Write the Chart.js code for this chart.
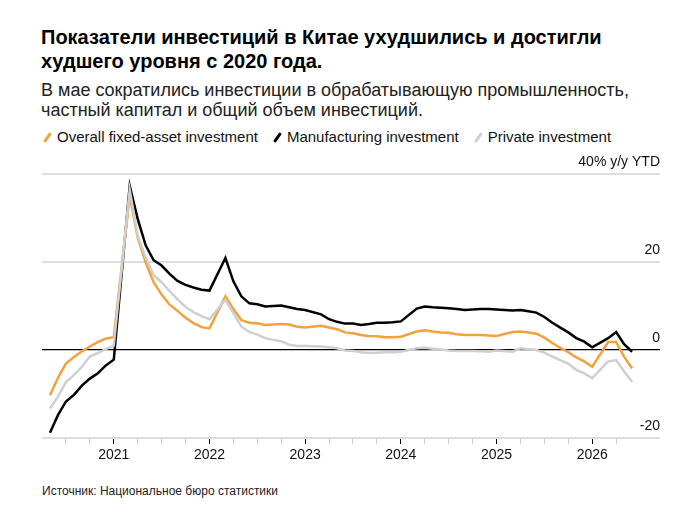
<!DOCTYPE html>
<html>
<head>
<meta charset="utf-8">
<script src="https://cdn.jsdelivr.net/npm/chart.js@4/dist/chart.umd.min.js"></script>
<style>
  body { margin: 0; background: #fff; font-family: "Liberation Sans", Arial, sans-serif; }
  #wrap { position: relative; width: 697px; height: 517px; }
  #title { position: absolute; left: 41px; top: 25px; font-size: 20px; font-weight: bold; line-height: 24px; color: #000; }
  #sub { position: absolute; left: 41px; top: 80px; font-size: 18px; line-height: 20px; color: #222; }
  #legend { position: absolute; left: 42px; top: 128px; font-size: 15px; color: #111; white-space: nowrap; }
  #legend span.item { margin-right: 14px; }
  #legend span.ic { display: inline-block; width: 3px; height: 11px; margin: 0 8px -1px 4px; transform: rotate(35deg); border-radius: 1px; }
  #source { position: absolute; left: 42px; top: 484px; font-size: 12px; color: #222; }
  canvas { position: absolute; left: 0; top: 140px; }
</style>
</head>
<body>
<div id="wrap">
  <div id="title">Показатели инвестиций в Китае ухудшились и достигли<br>худшего уровня с 2020 года.</div>
  <div id="sub">В мае сократились инвестиции в обрабатывающую промышленность,<br>частный капитал и общий объем инвестиций.</div>
  <div id="legend"></div>
  <canvas id="output" width="697" height="330"></canvas>
  <div id="source">Источник: Национальное бюро статистики</div>
</div>
<script>
// year-to-date periods (Jan-Feb are reported together)
let periods = [
  '2020-04', '2020-05', '2020-06', '2020-07', '2020-08', '2020-09', '2020-10', '2020-11', '2020-12',
  '2021-02', '2021-03', '2021-04', '2021-05', '2021-06', '2021-07', '2021-08', '2021-09', '2021-10', '2021-11', '2021-12',
  '2022-02', '2022-03', '2022-04', '2022-05', '2022-06', '2022-07', '2022-08', '2022-09', '2022-10', '2022-11', '2022-12',
  '2023-02', '2023-03', '2023-04', '2023-05', '2023-06', '2023-07', '2023-08', '2023-09', '2023-10', '2023-11', '2023-12',
  '2024-02', '2024-03', '2024-04', '2024-05', '2024-06', '2024-07', '2024-08', '2024-09', '2024-10', '2024-11', '2024-12',
  '2025-02', '2025-03', '2025-04', '2025-05', '2025-06', '2025-07', '2025-08', '2025-09', '2025-10', '2025-11', '2025-12',
  '2026-02', '2026-03', '2026-04', '2026-05'
]
let fixedAsset = [
  -10.3, -6.3, -3.1, -1.6, -0.3, 0.8, 1.8, 2.6, 2.9,
  35.0, 25.6, 19.9, 15.4, 12.6, 10.3, 8.9, 7.3, 6.1, 5.2, 4.9,
  12.2, 9.3, 6.8, 6.2, 6.1, 5.7, 5.8, 5.9, 5.8, 5.3, 5.1,
  5.5, 5.1, 4.7, 4.0, 3.8, 3.4, 3.2, 3.1, 2.9, 2.9, 3.0,
  4.2, 4.5, 4.2, 4.0, 3.9, 3.6, 3.4, 3.4, 3.4, 3.3, 3.2,
  4.1, 4.2, 4.0, 3.7, 2.8, 1.6, 0.5, -0.5, -1.7, -2.6, -3.8,
  1.8, 1.8, -1.5, -4.2
]
let manufacturing = [
  -18.8, -14.8, -11.7, -10.2, -8.1, -6.5, -5.3, -3.5, -2.2,
  37.3, 29.8, 23.8, 20.4, 19.2, 17.3, 15.7, 14.8, 14.2, 13.7, 13.5,
  20.9, 15.6, 12.2, 10.6, 10.4, 9.9, 10.0, 10.1, 9.7, 9.3, 9.1,
  8.1, 7.0, 6.4, 6.0, 6.0, 5.7, 5.9, 6.2, 6.2, 6.3, 6.5,
  9.4, 9.9, 9.7, 9.6, 9.5, 9.3, 9.1, 9.2, 9.3, 9.3, 9.2,
  9.0, 9.1, 8.8, 8.5, 7.5, 6.2, 5.1, 4.0, 2.7, 1.9, 0.6,
  2.7, 4.1, 1.3, -0.4
]
let privateInv = [
  -13.3, -10.6, -7.3, -5.7, -3.8, -1.5, -0.7, 0.2, 1.0,
  36.4, 26.0, 21.0, 17.0, 15.4, 13.4, 11.5, 9.8, 8.6, 7.7, 7.0,
  11.4, 8.4, 5.3, 4.1, 3.5, 2.7, 2.3, 2.0, 1.2, 0.9, 0.9,
  0.8, 0.6, 0.4, -0.1, -0.2, -0.5, -0.7, -0.6, -0.5, -0.5, -0.4,
  0.4, 0.5, 0.3, 0.1, -0.1, -0.2, -0.2, -0.2, -0.3, -0.4, -0.1,
  -0.4, 0.4, 0.2, 0.0, -0.6, -1.5, -2.3, -3.1, -4.5, -5.3, -6.4,
  -2.6, -2.3, -4.9, -7.2
]
let yearLabels = ['2021', '2022', '2023', '2024', '2025', '2026']
let yTicks = [-20, 0, 20, 40]

// months since start of 2021, point sits at end of its month
function toX (p) {
  let parts = p.split('-')
  return (parseInt(parts[0]) - 2021) * 12 + parseInt(parts[1])
}
function series (vals) {
  return vals.map(function (v, i) { return { x: toX(periods[i]), y: v } })
}

let quarterTicks = []
for (let q = -6; q <= 63; q += 3) quarterTicks.push(q)

let datasets = [
  { label: 'Private investment', data: series(privateInv), borderColor: '#cfcfcf' },
  { label: 'Overall fixed-asset investment', data: series(fixedAsset), borderColor: '#f2a23c' },
  { label: 'Manufacturing investment', data: series(manufacturing), borderColor: '#000000' }
]
datasets.forEach(function (d) {
  d.borderWidth = 2.5
  d.pointRadius = 0
  d.tension = 0
  d.fill = false
})

// legend in original order
let legendOrder = [1, 2, 0]
let legendHtml = ''
legendOrder.forEach(function (i) {
  let d = datasets[i]
  legendHtml += '<span class="item"><span class="ic" style="background:' + d.borderColor + '"></span>' + d.label + '</span>'
})
document.getElementById('legend').innerHTML = legendHtml

var ctx = document.getElementById('output').getContext('2d')
var myChart = new Chart(ctx, {
  type: 'line',
  data: { datasets: datasets },
  options: {
    responsive: false,
    animation: false,
    layout: { padding: { left: 42, right: 37, top: 34, bottom: 0 } },
    plugins: { legend: { display: false }, tooltip: { enabled: false } },
    scales: {
      x: {
        type: 'linear',
        min: -9,
        max: 68.5,
        afterBuildTicks: function (s) {
          s.ticks = quarterTicks.map(function (v) { return { value: v } })
        },
        afterFit: function (s) { s.height = 32 },
        border: { display: false },
        grid: {
          drawOnChartArea: false,
          drawTicks: true,
          tickLength: 6,
          lineWidth: 1,
          color: function (c) {
            return c.tick && c.tick.value % 12 === 0 ? '#000' : '#cccccc'
          }
        },
        ticks: {
          autoSkip: false,
          maxRotation: 0,
          padding: 3,
          color: '#111',
          font: { family: 'Liberation Sans', size: 14 },
          callback: function (v) {
            return v % 12 === 0 ? yearLabels[v / 12] : ''
          }
        }
      },
      y: {
        position: 'right',
        min: -20,
        max: 40,
        afterBuildTicks: function (s) {
          s.ticks = yTicks.map(function (v) { return { value: v } })
        },
        afterFit: function (s) { s.width = 0 },
        border: { display: false },
        grid: {
          drawTicks: false,
          color: function (c) { return c.tick && c.tick.value === 0 ? '#000' : '#dddddd' },
          lineWidth: function (c) { return c.tick && c.tick.value === 0 ? 1.2 : 2 }
        },
        ticks: {
          mirror: true,
          padding: 0,
          labelOffset: -12,
          color: '#111',
          font: { family: 'Liberation Sans', size: 14 },
          callback: function (v) { return v === 40 ? '40% y/y YTD' : String(v) }
        }
      }
    }
  }
})
</script>
</body>
</html>
